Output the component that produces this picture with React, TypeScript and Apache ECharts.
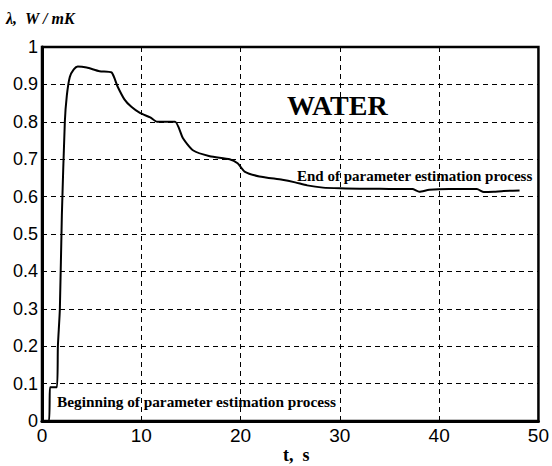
import React, { useEffect, useRef } from "react";
import * as echarts from "echarts";

const times = [0, 0.7, 0.8, 1.0, 1.5, 1.6, 1.8, 2.0, 2.3, 2.5, 2.8, 3.2, 3.6, 4.5, 5.8, 7.0, 7.6, 8.3, 9.0, 9.9, 10.9, 11.6, 13.4, 14.2, 15.2, 16.9, 18.9, 19.7, 20.4, 21.9, 24.2, 25.5, 26.7, 28.3, 30, 32, 34, 36, 37.3, 38, 39, 41, 43.8, 44.5, 45.5, 46.5, 48.1];
const lambda = [0, 0, 0.09, 0.09, 0.09, 0.2, 0.3, 0.55, 0.8, 0.87, 0.92, 0.94, 0.948, 0.945, 0.935, 0.932, 0.895, 0.86, 0.84, 0.823, 0.812, 0.8, 0.8, 0.756, 0.724, 0.708, 0.7, 0.689, 0.667, 0.654, 0.645, 0.638, 0.63, 0.624, 0.622, 0.621, 0.621, 0.62, 0.62, 0.613, 0.618, 0.62, 0.62, 0.612, 0.613, 0.615, 0.616];

const xTicks = [0, 10, 20, 30, 40, 50];
const yLabel = "λ,  W / mK";
const xLabel = "t,  s";
const materialLabel = "WATER";
const endLabel = "End of parameter estimation process";
const beginLabel = "Beginning of parameter estimation process";

export default function App() {
  const ref = useRef<HTMLDivElement>(null);
  useEffect(() => {
    if (!ref.current) return;
    const chart = echarts.init(ref.current, null, { renderer: "svg" });
    const serif = "'Liberation Serif', 'Times New Roman', serif";
    const sans = "'Liberation Sans', Arial, sans-serif";
    chart.setOption({
      animation: false,
      backgroundColor: "#fff",
      grid: { left: 42, right: 13, top: 47, bottom: 45, show: true, borderColor: "#000", borderWidth: 2.5, containLabel: false },
      xAxis: {
        type: "value",
        min: xTicks[0],
        max: xTicks[xTicks.length - 1],
        interval: 10,
        axisLine: { show: true, onZero: false, lineStyle: { color: "#000", width: 3 } },
        axisTick: { show: true, inside: true, length: 4, lineStyle: { color: "#000" } },
        axisLabel: { color: "#000", fontFamily: sans, fontSize: 19, margin: 5 },
        splitLine: { show: true, lineStyle: { color: "#000", type: [5, 4], width: 1 } },
      },
      yAxis: {
        type: "value",
        min: 0,
        max: 1,
        interval: 0.1,
        axisLine: { show: true, onZero: false, lineStyle: { color: "#000", width: 3 } },
        axisTick: { show: true, inside: true, length: 4, lineStyle: { color: "#000" } },
        axisLabel: {
          color: "#000",
          fontFamily: sans,
          fontSize: 18,
          margin: 4,
          formatter: (v: number) => String(+v.toFixed(1)),
        },
        splitLine: { show: true, lineStyle: { color: "#000", type: [5, 4], width: 1 } },
      },
      series: [
        {
          type: "line",
          data: times.map((t, i) => [t, lambda[i]]),
          showSymbol: false,
          lineStyle: { color: "#000", width: 2 },
          smooth: 0.2,
        },
      ],
      graphic: [
        { type: "text", x: 6, y: 18, style: { text: yLabel, font: `italic bold 16px ${serif}`, fill: "#000", textVerticalAlign: "middle" } },
        { type: "text", x: 283, y: 455, style: { text: xLabel, font: `bold 18px ${serif}`, fill: "#000", textVerticalAlign: "middle" } },
        { type: "text", x: 287, y: 105, style: { text: materialLabel, font: `bold 28px ${serif}`, fill: "#000", textVerticalAlign: "middle" } },
        { type: "text", x: 297, y: 176, style: { text: endLabel, font: `bold 15px ${serif}`, fill: "#000", textVerticalAlign: "middle" } },
        { type: "text", x: 57, y: 401, style: { text: beginLabel, font: `bold 15.3px ${serif}`, fill: "#000", textVerticalAlign: "middle" } },
      ],
    });
    return () => chart.dispose();
  }, []);
  return <div ref={ref} style={{ width: 552, height: 466, position: "absolute", left: 0, top: 0 }} />;
}
